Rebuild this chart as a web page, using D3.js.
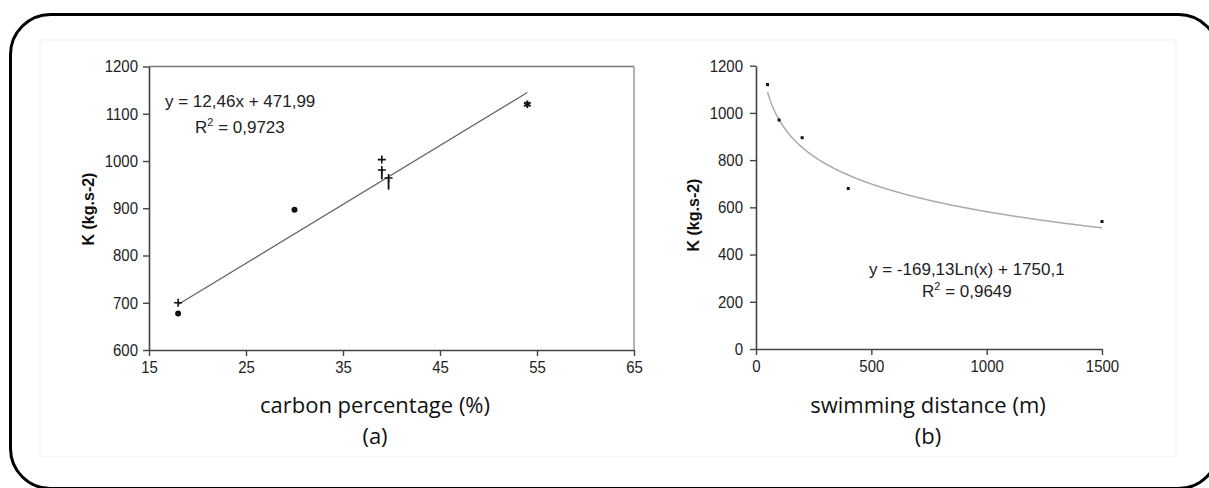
<!DOCTYPE html>
<html>
<head>
<meta charset="utf-8">
<script src="https://cdn.jsdelivr.net/npm/d3@7/dist/d3.min.js"></script>
<style>
html,body{margin:0;padding:0;background:#fff;}
svg{display:block;}
</style>
</head>
<body>
<svg id="chart" width="1209" height="488"></svg>
<script>
// ---------- DATA ----------
// Chart (a): K vs carbon percentage
const aXTicks = [15, 25, 35, 45, 55, 65];
const aYTicks = [600, 700, 800, 900, 1000, 1100, 1200];
const aCircles = [[18, 677], [30, 897]];
const aPlus = [[18, 700], [39, 1003], [39, 981], [39.7, 964]];
const aDash = [[39, 972], [39.7, 950]];
const aStars = [[54, 1120]];
const aSlope = 12.46, aIntercept = 471.99;
const aFitRange = [18, 54];
const aEq = "y = 12,46x + 471,99";
const aR2 = "0,9723";
const aXTitle = "carbon percentage (%)";
const aLabel = "(a)";

// Chart (b): K vs swimming distance
const bXTicks = [0, 500, 1000, 1500];
const bYTicks = [0, 200, 400, 600, 800, 1000, 1200];
const bPoints = [[50, 1120], [100, 970], [200, 895], [400, 680], [1500, 540]];
const bCoef = -169.13, bConst = 1750.1;
const bFitRange = [50, 1500];
const bEq = "y = -169,13Ln(x) + 1750,1";
const bR2 = "0,9649";
const bXTitle = "swimming distance (m)";
const bLabel = "(b)";

const yTitle = "K (kg.s-2)";

// ---------- DRAW ----------
const svg = d3.select("#chart");
const labelFont = '"Liberation Sans",Arial,sans-serif';
const titleFont = '"Open Sans","Noto Sans",sans-serif';
const fmt = d3.format("d");

function styleAxis(g, bottom) {
  g.attr("font-family", labelFont).attr("font-size", 15);
  g.select(".domain").attr("stroke", "#444").attr("stroke-width", 1.6);
  g.selectAll(".tick line").attr("stroke", "#444").attr("stroke-width", 1.4);
  const t = g.selectAll(".tick text").attr("fill", "#222").attr("font-size", 15).attr("font-family", labelFont)
    .attr("transform", "scale(1,1.12)");
  if (bottom) t.attr("y", 10);
}

// faint image boundary
svg.append("rect").attr("x", 40).attr("y", 40).attr("width", 1136).attr("height", 417)
  .attr("fill", "none").attr("stroke", "#f2f2f2").attr("stroke-width", 1);

// outer rounded frame
svg.append("rect").attr("x", 10.5).attr("y", 14.5).attr("width", 1208).attr("height", 474)
  .attr("rx", 40).attr("ry", 40)
  .attr("fill", "none").attr("stroke", "#000").attr("stroke-width", 3);

// ----- Chart (a) -----
const ax = d3.scaleLinear().domain([15, 65]).range([149, 634]);
const ay = d3.scaleLinear().domain([600, 1200]).range([350, 66.5]);
const ga = svg.append("g");

// plot frame top + right
ga.append("line").attr("x1", ax(15)).attr("x2", ax(65)).attr("y1", ay(1200)).attr("y2", ay(1200))
  .attr("stroke", "#777").attr("stroke-width", 1.5);
ga.append("line").attr("x1", ax(65)).attr("x2", ax(65)).attr("y1", ay(1200)).attr("y2", ay(600))
  .attr("stroke", "#999").attr("stroke-width", 1.5);

const axA = ga.append("g").attr("transform", `translate(0,${ay(600)})`)
  .call(d3.axisBottom(ax).tickValues(aXTicks).tickFormat(fmt).tickSize(6).tickPadding(6).tickSizeOuter(0));
const ayA = ga.append("g").attr("transform", `translate(${ax(15)},0)`)
  .call(d3.axisLeft(ay).tickValues(aYTicks).tickFormat(fmt).tickSize(6).tickPadding(5).tickSizeOuter(0));
styleAxis(axA, true); styleAxis(ayA, false);

// trendline
ga.append("line")
  .attr("x1", ax(aFitRange[0])).attr("y1", ay(aSlope * aFitRange[0] + aIntercept))
  .attr("x2", ax(aFitRange[1])).attr("y2", ay(aSlope * aFitRange[1] + aIntercept))
  .attr("stroke", "#666").attr("stroke-width", 1.3);

// markers
ga.selectAll(".c").data(aCircles).enter().append("circle")
  .attr("cx", d => ax(d[0])).attr("cy", d => ay(d[1])).attr("r", 3).attr("fill", "#111");
ga.selectAll(".p").data(aPlus).enter().append("path")
  .attr("d", d => { const x = ax(d[0]), y = ay(d[1]); return `M${x-4},${y}H${x+4}M${x},${y-4}V${y+4}`; })
  .attr("stroke", "#111").attr("stroke-width", 1.6);
ga.selectAll(".dd").data(aDash).enter().append("path")
  .attr("d", d => { const x = ax(d[0]), y = ay(d[1]); return `M${x},${y-5}V${y+5}`; })
  .attr("stroke", "#111").attr("stroke-width", 1.8);
ga.selectAll(".s").data(aStars).enter().append("path")
  .attr("d", d3.symbol(d3.symbolAsterisk, 40))
  .attr("transform", d => `translate(${ax(d[0])},${ay(d[1])})`)
  .attr("stroke", "#111").attr("stroke-width", 2);

// equation
ga.append("text").attr("x", 165).attr("y", 107).attr("font-family", labelFont).attr("font-size", 17)
  .attr("fill", "#222").text(aEq);
const r2a = ga.append("text").attr("x", 195).attr("y", 133).attr("font-family", labelFont)
  .attr("font-size", 17).attr("fill", "#222");
r2a.append("tspan").text("R");
r2a.append("tspan").attr("dy", -7).attr("font-size", 11).text("2");
r2a.append("tspan").attr("dy", 7).text(" = " + aR2);

// axis titles
ga.append("text").attr("transform", `translate(94,209) rotate(-90)`).attr("text-anchor", "middle")
  .attr("font-family", labelFont).attr("font-size", 16).attr("font-weight", "bold").attr("fill", "#111").text(yTitle);
ga.append("text").attr("x", 375).attr("y", 413).attr("text-anchor", "middle")
  .attr("font-family", titleFont).attr("font-size", 22).attr("fill", "#111").text(aXTitle);
ga.append("text").attr("x", 375).attr("y", 444).attr("text-anchor", "middle")
  .attr("font-family", titleFont).attr("font-size", 22).attr("fill", "#111").text(aLabel);

// ----- Chart (b) -----
const bx = d3.scaleLinear().domain([0, 1500]).range([756, 1102]);
const by = d3.scaleLinear().domain([0, 1200]).range([349, 65.7]);
const gb = svg.append("g");

const axB = gb.append("g").attr("transform", `translate(0,${by(0)})`)
  .call(d3.axisBottom(bx).tickValues(bXTicks).tickFormat(fmt).tickSize(6).tickPadding(6).tickSizeOuter(0));
const ayB = gb.append("g").attr("transform", `translate(${bx(0)},0)`)
  .call(d3.axisLeft(by).tickValues(bYTicks).tickFormat(fmt).tickSize(6).tickPadding(7).tickSizeOuter(0));
styleAxis(axB, true); styleAxis(ayB, false);

// log trend curve
const xs = d3.range(bFitRange[0], bFitRange[1] + 1, 5);
gb.append("path")
  .datum(xs)
  .attr("d", d3.line().x(d => bx(d)).y(d => by(bCoef * Math.log(d) + bConst)))
  .attr("fill", "none").attr("stroke", "#aaa").attr("stroke-width", 1.5);

gb.selectAll(".b").data(bPoints).enter().append("rect")
  .attr("x", d => bx(d[0]) - 1.5).attr("y", d => by(d[1]) - 1.5)
  .attr("width", 3).attr("height", 3).attr("fill", "#111");

gb.append("text").attr("x", 869).attr("y", 275).attr("font-family", labelFont).attr("font-size", 17)
  .attr("fill", "#222").text(bEq);
const r2b = gb.append("text").attr("x", 922).attr("y", 297).attr("font-family", labelFont)
  .attr("font-size", 17).attr("fill", "#222");
r2b.append("tspan").text("R");
r2b.append("tspan").attr("dy", -7).attr("font-size", 11).text("2");
r2b.append("tspan").attr("dy", 7).text(" = " + bR2);

gb.append("text").attr("transform", `translate(699,215) rotate(-90)`).attr("text-anchor", "middle")
  .attr("font-family", labelFont).attr("font-size", 16).attr("font-weight", "bold").attr("fill", "#111").text(yTitle);
gb.append("text").attr("x", 928).attr("y", 413).attr("text-anchor", "middle")
  .attr("font-family", titleFont).attr("font-size", 22).attr("fill", "#111").text(bXTitle);
gb.append("text").attr("x", 928).attr("y", 444).attr("text-anchor", "middle")
  .attr("font-family", titleFont).attr("font-size", 22).attr("fill", "#111").text(bLabel);
</script>
</body>
</html>
